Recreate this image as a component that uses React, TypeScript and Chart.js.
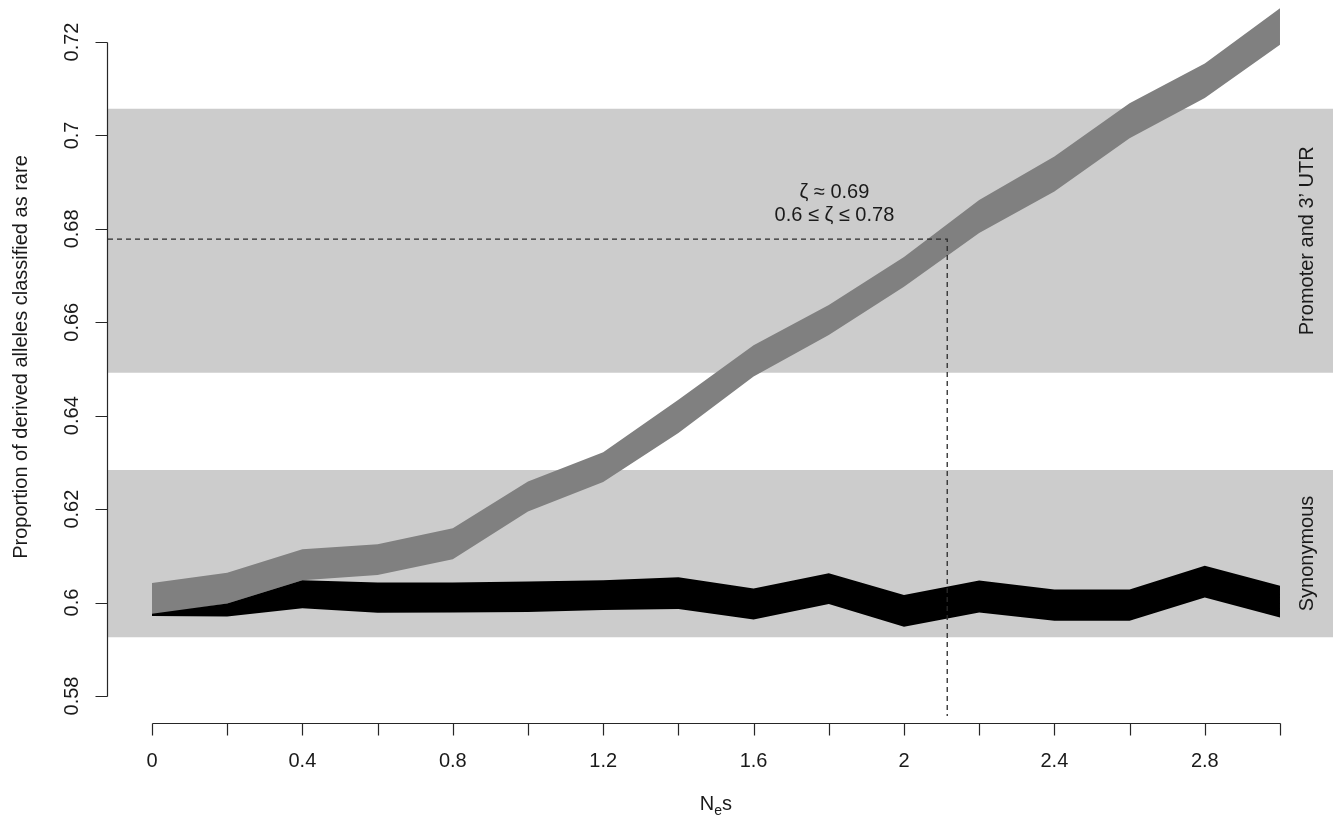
import React, { useEffect, useRef } from "react";
import { Chart, registerables } from "chart.js";

Chart.register(...registerables);

// ---- data ----
const nes = [0, 0.2, 0.4, 0.6, 0.8, 1.0, 1.2, 1.4, 1.6, 1.8, 2.0, 2.2, 2.4, 2.6, 2.8, 3.0];
const promoterUpper = [0.6042, 0.6064, 0.6114, 0.6125, 0.6159, 0.6259, 0.6322, 0.6434, 0.6551, 0.6637, 0.674, 0.6862, 0.6955, 0.7069, 0.7154, 0.7272];
const promoterLower = [0.5973, 0.5998, 0.6048, 0.6059, 0.6093, 0.6195, 0.6258, 0.6363, 0.6484, 0.6573, 0.6676, 0.6791, 0.688, 0.6994, 0.708, 0.7194];
const synonymousUpper = [0.5976, 0.5998, 0.6048, 0.6043, 0.6043, 0.6045, 0.6048, 0.6054, 0.603, 0.6063, 0.6016, 0.6047, 0.6028, 0.6028, 0.6079, 0.6036];
const synonymousLower = [0.5971, 0.597, 0.5988, 0.5978, 0.5979, 0.598, 0.5984, 0.5986, 0.5964, 0.5997, 0.5948, 0.5979, 0.5961, 0.5961, 0.6011, 0.5968];
const promoterBand = [0.6492, 0.7057];
const synonymousBand = [0.5926, 0.6284];
const zetaNes = 2.115;
const zetaProportion = 0.6778;
const dashBottom = 0.5757;
const bandLabels = ["Promoter and 3\u2019 UTR", "Synonymous"];
const annotationLines = ["\u03B6 \u2248 0.69", "0.6 \u2264 \u03B6 \u2264 0.78"];
const yTicks = [0.58, 0.6, 0.62, 0.64, 0.66, 0.68, 0.7, 0.72];
const yTickLabels = ["0.58", "0.6", "0.62", "0.64", "0.66", "0.68", "0.7", "0.72"];
const xTicks = [0, 0.2, 0.4, 0.6, 0.8, 1.0, 1.2, 1.4, 1.6, 1.8, 2.0, 2.2, 2.4, 2.6, 2.8, 3.0];
const xTickLabels = ["0", "", "0.4", "", "0.8", "", "1.2", "", "1.6", "", "2", "", "2.4", "", "2.8", ""];
const yTitle = "Proportion of derived alleles classified as rare";

const X_MIN = -0.117;
const X_MAX = 3.141;
const Y_MIN = 0.57422;
const Y_MAX = 0.72899;

const FONT = '"Liberation Sans", Arial, Helvetica, sans-serif';
const FS = 20;
const AXIS_COLOR = "#262626";

const rAxesPlugin = {
  id: "rAxes",
  afterDraw(chart: any) {
    const ctx = chart.ctx as CanvasRenderingContext2D;
    const xs = chart.scales.x;
    const ys = chart.scales.y;
    ctx.save();
    ctx.strokeStyle = AXIS_COLOR;
    ctx.fillStyle = "#1a1a1a";
    ctx.lineWidth = 1.2;

    // Y axis
    const yAxisX = 107.5;
    const yTop = ys.getPixelForValue(yTicks[yTicks.length - 1]);
    const yBot = ys.getPixelForValue(yTicks[0]);
    ctx.beginPath();
    ctx.moveTo(yAxisX, Math.round(yTop) + 0.5);
    ctx.lineTo(yAxisX, Math.round(yBot) + 0.5);
    yTicks.forEach((t) => {
      const py = Math.round(ys.getPixelForValue(t)) + 0.5;
      ctx.moveTo(yAxisX, py);
      ctx.lineTo(yAxisX - 12, py);
    });
    ctx.stroke();
    ctx.font = `${FS}px ${FONT}`;
    ctx.textAlign = "center";
    ctx.textBaseline = "middle";
    yTicks.forEach((t, i) => {
      const py = ys.getPixelForValue(t);
      ctx.save();
      ctx.translate(72, py);
      ctx.rotate(-Math.PI / 2);
      ctx.fillText(yTickLabels[i], 0, 0);
      ctx.restore();
    });
    // Y title
    ctx.save();
    ctx.translate(21, 357);
    ctx.rotate(-Math.PI / 2);
    ctx.fillText(yTitle, 0, 0);
    ctx.restore();

    // X axis
    const xAxisY = 723.5;
    const xl = Math.round(xs.getPixelForValue(xTicks[0])) + 0.5;
    const xr = Math.round(xs.getPixelForValue(xTicks[xTicks.length - 1])) + 0.5;
    ctx.beginPath();
    ctx.moveTo(xl, xAxisY);
    ctx.lineTo(xr, xAxisY);
    xTicks.forEach((t) => {
      const px = Math.round(xs.getPixelForValue(t)) + 0.5;
      ctx.moveTo(px, xAxisY);
      ctx.lineTo(px, xAxisY + 12);
    });
    ctx.stroke();
    xTicks.forEach((t, i) => {
      if (!xTickLabels[i]) return;
      ctx.fillText(xTickLabels[i], xs.getPixelForValue(t), 761);
    });
    // X title N_e s
    const cx = (xs.getPixelForValue(xTicks[0]) + xs.getPixelForValue(xTicks[xTicks.length - 1])) / 2;
    ctx.font = `${FS}px ${FONT}`;
    const wN = ctx.measureText("N").width;
    const wS = ctx.measureText("s").width;
    ctx.font = `14px ${FONT}`;
    const wE = ctx.measureText("e").width;
    const total = wN + wE + wS;
    const x0 = cx - total / 2;
    ctx.textAlign = "left";
    ctx.font = `${FS}px ${FONT}`;
    ctx.fillText("N", x0, 804);
    ctx.font = `14px ${FONT}`;
    ctx.fillText("e", x0 + wN, 811);
    ctx.font = `${FS}px ${FONT}`;
    ctx.fillText("s", x0 + wN + wE, 804);

    // Band labels on right
    ctx.textAlign = "center";
    const bands = [promoterBand, synonymousBand];
    bands.forEach((b, i) => {
      const py = (ys.getPixelForValue(b[0]) + ys.getPixelForValue(b[1])) / 2;
      ctx.save();
      ctx.translate(1307, py);
      ctx.rotate(-Math.PI / 2);
      ctx.fillText(bandLabels[i], 0, 0);
      ctx.restore();
    });

    // Annotation
    const ax = xs.getPixelForValue(1.815);
    const ay = ys.getPixelForValue(0.688);
    ctx.fillText(annotationLines[0], ax, ay + 1);
    ctx.fillText(annotationLines[1], ax, ay + 24);

    ctx.restore();
  },
};

function band(vals: number[]) {
  return [
    { x: X_MIN, y: vals[0] },
    { x: X_MAX, y: vals[0] },
  ];
}
function series(vals: number[]) {
  return nes.map((x, i) => ({ x, y: vals[i] }));
}

export default function App() {
  const ref = useRef<HTMLCanvasElement | null>(null);
  useEffect(() => {
    document.body.style.margin = "0";
    const canvas = ref.current;
    if (!canvas) return;
    const common = { pointRadius: 0, borderWidth: 0, tension: 0 };
    const chart = new Chart(canvas, {
      type: "line",
      data: {
        datasets: [
          {
            ...common,
            data: [
              { x: X_MIN, y: zetaProportion },
              { x: zetaNes, y: zetaProportion },
              { x: zetaNes, y: dashBottom },
            ],
            borderWidth: 1.3,
            borderColor: "#2a2a2a",
            borderDash: [5, 4],
            fill: false,
            order: 0,
          },
          { ...common, data: series(synonymousUpper), backgroundColor: "#000000", borderColor: "#000000", fill: "+1", order: 1 },
          { ...common, data: series(synonymousLower), backgroundColor: "#000000", borderColor: "#000000", fill: false, order: 1 },
          { ...common, data: series(promoterUpper), backgroundColor: "#808080", borderColor: "#808080", fill: "+1", order: 2 },
          { ...common, data: series(promoterLower), backgroundColor: "#808080", borderColor: "#808080", fill: false, order: 2 },
          { ...common, data: band([promoterBand[1]]), backgroundColor: "#cccccc", borderColor: "#cccccc", fill: "+1", order: 3 },
          { ...common, data: band([promoterBand[0]]), backgroundColor: "#cccccc", borderColor: "#cccccc", fill: false, order: 3 },
          { ...common, data: band([synonymousBand[1]]), backgroundColor: "#cccccc", borderColor: "#cccccc", fill: "+1", order: 3 },
          { ...common, data: band([synonymousBand[0]]), backgroundColor: "#cccccc", borderColor: "#cccccc", fill: false, order: 3 },
        ],
      },
      options: {
        responsive: false,
        animation: false,
        parsing: true,
        layout: { padding: { left: 108, right: 0, top: 0, bottom: 101 } },
        plugins: { legend: { display: false }, tooltip: { enabled: false } },
        scales: {
          x: { type: "linear", min: X_MIN, max: X_MAX, display: false },
          y: { type: "linear", min: Y_MIN, max: Y_MAX, display: false },
        },
      },
      plugins: [rAxesPlugin],
    } as any);
    return () => chart.destroy();
  }, []);
  return (
    <div style={{ width: 1333, height: 824, background: "#ffffff" }}>
      <canvas ref={ref} width={1333} height={824} style={{ display: "block" }} />
    </div>
  );
}
